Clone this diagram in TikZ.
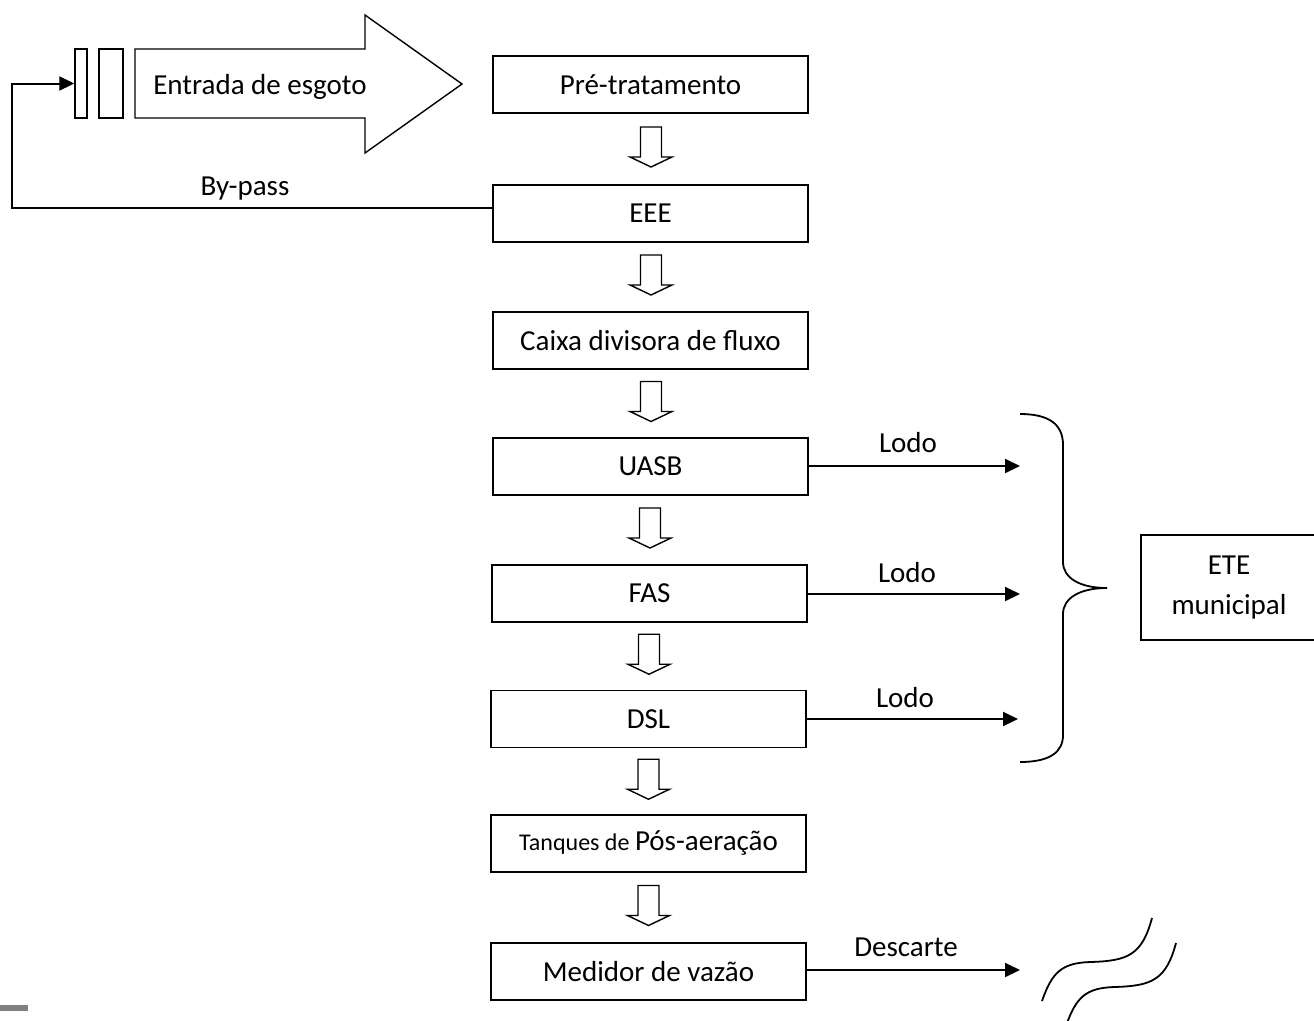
\documentclass[tikz,border=0pt]{standalone}
\usepackage{fontspec}
\setmainfont{Carlito}
\usetikzlibrary{arrows.meta,calc}
\begin{document}
\begin{tikzpicture}[x=1pt,y=-1pt,
  box/.style={draw,line width=1.4pt,minimum width=315pt,minimum height=57pt,inner sep=0pt,font=\fontsize{29}{35}\selectfont},
  bar/.style={draw,line width=1.4pt,minimum height=69pt,inner sep=0pt},
  conn/.style={line width=2pt,-{Triangle[length=15pt,width=14pt]}},
  lbl/.style={font=\fontsize{29}{35}\selectfont,inner sep=0pt},
  wire/.style={line width=1.8pt},
  dnarrow/.pic={\draw[line width=1.4pt,line join=miter] (-10.5,-20) -- (10.5,-20) -- (10.5,10) -- (21,10) -- (0,20) -- (-21,10) -- (-10.5,10) -- cycle;}
]
\useasboundingbox (0,0) rectangle (1314,1020);
\fill[white] (0,0) rectangle (1314,1020);

% main column
\node[box] (pre)   at (650.5,84.5)  {Pré-tratamento};
\node[box] (eee)   at (650.5,213.5) {EEE};
\node[box] (caixa) at (650.5,340.5) {Caixa divisora de fluxo};
\node[box] (uasb)  at (650.5,466.5) {UASB};
\node[box] (fas)   at (649.5,593.5) {FAS};
\node[box] (dsl)   at (648.5,719)   {DSL};
\node[box] (tanq)  at (648.5,843.5) {{\fontsize{24}{29}\selectfont Tanques de }Pós-aeração};
\node[box] (med)   at (648.5,971.5) {Medidor de vazão};

% hollow arrows between boxes
\pic at ($(pre.south)!0.5!(eee.north)+(0.5,-2)$) {dnarrow};
\pic at ($(eee.south)!0.5!(caixa.north)+(0.5,-2)$) {dnarrow};
\pic at ($(caixa.south)!0.5!(uasb.north)+(0.5,-2)$) {dnarrow};
\pic at ($(uasb.south)!0.5!(fas.north)+(0,-2)$) {dnarrow};
\pic at ($(fas.south)!0.5!(dsl.north)+(0,-2)$) {dnarrow};
\pic at ($(dsl.south)!0.5!(tanq.north)+(0,-2)$) {dnarrow};
\pic at ($(tanq.south)!0.5!(med.north)+(0,-2)$) {dnarrow};

% inlet arrow with screens
\draw[line width=1.4pt,line join=miter] (135,49) -- (365,49) -- (365,15) -- (462,84) -- (365,153) -- (365,118) -- (135,118) -- cycle;
\node[lbl] (entrada) at (260,87) {Entrada de esgoto};
\node[bar,minimum width=12pt] (bar1) at (81,83.5) {};
\node[bar,minimum width=24pt] (bar2) at (111,83.5) {};

% by-pass
\coordinate (bp) at (12,208);
\draw[conn] (eee.west |- 0,208) -- (bp) |- (bar1.west);
\node[lbl] (bypass) at (245,189) {By-pass};

% sludge outputs
\coordinate (l1) at (1020,466);
\coordinate (l2) at (1020,594);
\coordinate (l3) at (1018,719);
\draw[conn] (uasb.east |- l1) -- (l1);
\draw[conn] (fas.east |- l2) -- (l2);
\draw[conn] (dsl.east |- l3) -- (l3);
\node[lbl] (lodo1) at (908,443) {Lodo};
\node[lbl] (lodo2) at (907,573) {Lodo};
\node[lbl] (lodo3) at (905,698) {Lodo};

% brace
\coordinate (brtip) at (1107,588);
\draw[wire] (1020,414) .. controls (1050,414) and (1063,425) .. (1063,445)
  -- (1063,562) .. controls (1063,578) and (1080,588) .. (brtip)
  .. controls (1080,588) and (1063,598) .. (1063,614)
  -- (1063,735) .. controls (1063,752) and (1050,762) .. (1020,762);

% municipal plant
\node[draw,line width=1.4pt,minimum width=176pt,minimum height=105pt,inner sep=0pt,align=center,font=\fontsize{29}{40}\selectfont] (ete) at (1229,587.5) {ETE\\municipal};

% discharge
\coordinate (dc) at (1020,970);
\draw[conn] (med.east |- dc) -- (dc);
\node[lbl] (descarte) at (906,947) {Descarte};
\draw[wire] (1042,1001) .. controls (1052,972) and (1062,963) .. (1090,962)
  .. controls (1128,961) and (1142,955) .. (1152,918);
\draw[wire] (1066,1026) .. controls (1076,997) and (1086,988) .. (1114,987)
  .. controls (1152,986) and (1166,980) .. (1176,943);

% grey mark at bottom left
\fill[gray] (0,1005) rectangle (28,1011);
\end{tikzpicture}
\end{document}
